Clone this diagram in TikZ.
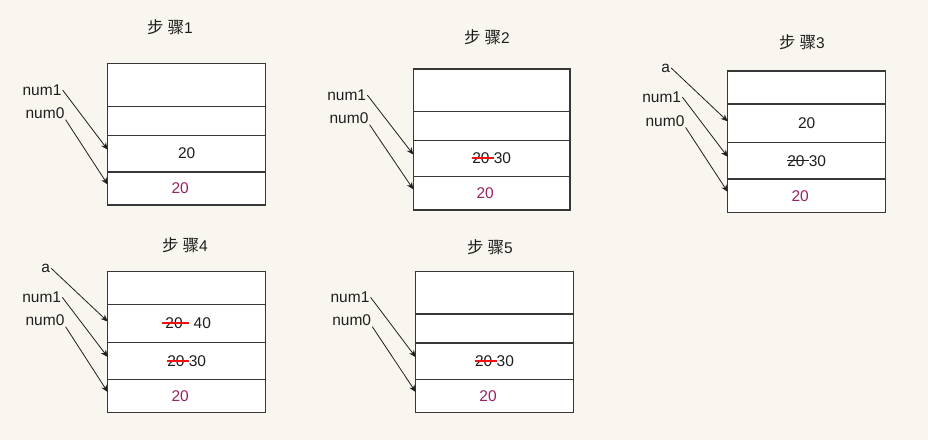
\documentclass[tikz,border=0pt]{standalone}
\usepackage{fontspec}
\setmainfont{Liberation Sans}
\newfontfamily\cjk{Noto Sans CJK SC}
\usetikzlibrary{arrows.meta}
\definecolor{paper}{RGB}{249, 246, 240}
\definecolor{boxgray}{RGB}{55, 55, 55}
\definecolor{inkgray}{RGB}{30, 30, 30}
\definecolor{strikered}{RGB}{245, 15, 15}
\definecolor{plum}{RGB}{150, 35, 100}
\newcommand\struck[2][strikered]{\setbox0\hbox{#2}\rlap{\copy0}{\color{#1}\vrule height 0.42em depth -0.31em width \wd0}}
\newcommand\orig[1]{\textcolor{plum}{#1}\hspace*{13pt}}
\newcommand\steptitle[1]{{\cjk\fontsize{16.5}{18}\selectfont 步\hspace{4pt}骤}#1}

\begin{document}
\begin{tikzpicture}[x=1pt, y=-1pt,
  every node/.style={font=\fontsize{15.5}{18}\selectfont, text=inkgray},
  cell/.style={draw=boxgray, fill=white, line width=1.2pt, anchor=north west, inner sep=0pt, outer sep=0pt},
  var/.style={inner sep=1pt},
  ptr/.style={draw=inkgray, line width=0.8pt, -{Stealth[length=7pt, width=6pt]}}]
  \fill[paper] (0,0) rectangle (928,440);
  \useasboundingbox (0,0) rectangle (928,440);

  % Step 1
  \node (t1) at (170,27) {\steptitle{1}};
  \node[cell, minimum width=158, minimum height=43] (s1c1) at (107.7,63.7) {};
  \node[cell, minimum width=158, minimum height=28.6] (s1c2) at (107.7,106.7) {};
  \node[cell, minimum width=158, minimum height=36.7] (s1c3) at (107.7,135.3) {20};
  \node[cell, minimum width=158, minimum height=33] (s1c4) at (107.7,172) {\orig{20}};
  \node[var] (s1n1) at (42,90) {num1};
  \node[var] (s1n0) at (45,113) {num0};
  \draw[ptr] (s1n1.east) -- ([yshift=4pt]s1c3.west);
  \draw[ptr] (s1n0.south east) -- ([yshift=4pt]s1c4.west);

  % Step 2
  \node (t2) at (487,37) {\steptitle{2}};
  \node[cell, minimum width=156.7, minimum height=42.3] (s2c1) at (413.3,69) {};
  \node[cell, minimum width=156.7, minimum height=29] (s2c2) at (413.3,111.3) {};
  \node[cell, minimum width=156.7, minimum height=36.4] (s2c3) at (413.3,140.3) {\struck{20 }30};
  \node[cell, minimum width=156.7, minimum height=33.3] (s2c4) at (413.3,176.7) {\orig{20}};
  \node[var] (s2n1) at (346.7,95) {num1};
  \node[var] (s2n0) at (349,118) {num0};
  \draw[ptr] (s2n1.east) -- ([yshift=4pt]s2c3.west);
  \draw[ptr] (s2n0.south east) -- ([yshift=4pt]s2c4.west);

  % Step 3
  \node (t3) at (802,42) {\steptitle{3}};
  \node[cell, minimum width=158, minimum height=33] (s3c1) at (727.7,71) {};
  \node[cell, minimum width=158, minimum height=38.7] (s3c2) at (727.7,104) {20};
  \node[cell, minimum width=158, minimum height=36.3] (s3c3) at (727.7,142.7) {\struck[inkgray]{20 }30};
  \node[cell, minimum width=158, minimum height=33.7] (s3c4) at (727.7,179) {\orig{20}};
  \node[var] (s3a) at (665.7,68) {a};
  \node[var] (s3n1) at (661.7,97) {num1};
  \node[var] (s3n0) at (665,120.7) {num0};
  \draw[ptr] (s3a.east) -- ([yshift=2pt]s3c2.west);
  \draw[ptr] (s3n1.east) -- ([yshift=4pt]s3c3.west);
  \draw[ptr] (s3n0.south east) -- ([yshift=4pt]s3c4.west);

  % Step 4
  \node (t4) at (185,245) {\steptitle{4}};
  \node[cell, minimum width=158, minimum height=32.6] (s4c1) at (107.7,271.7) {};
  \node[cell, minimum width=158, minimum height=38.4] (s4c2) at (107.7,304.3) {\struck{\hspace{3pt}20\hspace{6pt}}\hspace{5pt}40};
  \node[cell, minimum width=158, minimum height=36.6] (s4c3) at (107.7,342.7) {\struck{20 }30};
  \node[cell, minimum width=158, minimum height=33.4] (s4c4) at (107.7,379.3) {\orig{20}};
  \node[var] (s4a) at (45.7,268.3) {a};
  \node[var] (s4n1) at (41.7,297.3) {num1};
  \node[var] (s4n0) at (45,320) {num0};
  \draw[ptr] (s4a.east) -- ([yshift=2pt]s4c2.west);
  \draw[ptr] (s4n1.east) -- ([yshift=4pt]s4c3.west);
  \draw[ptr] (s4n0.south east) -- ([yshift=4pt]s4c4.west);

  % Step 5
  \node (t5) at (490,247) {\steptitle{5}};
  \node[cell, minimum width=157.6, minimum height=42.3] (s5c1) at (415.7,271.7) {};
  \node[cell, minimum width=157.6, minimum height=29] (s5c2) at (415.7,314) {};
  \node[cell, minimum width=157.6, minimum height=36.3] (s5c3) at (415.7,343) {\struck{20 }30};
  \node[cell, minimum width=157.6, minimum height=33.4] (s5c4) at (415.7,379.3) {\orig{20}};
  \node[var] (s5n1) at (350,297.3) {num1};
  \node[var] (s5n0) at (351.7,320) {num0};
  \draw[ptr] (s5n1.east) -- ([yshift=4pt]s5c3.west);
  \draw[ptr] (s5n0.south east) -- ([yshift=4pt]s5c4.west);
\end{tikzpicture}
\end{document}
